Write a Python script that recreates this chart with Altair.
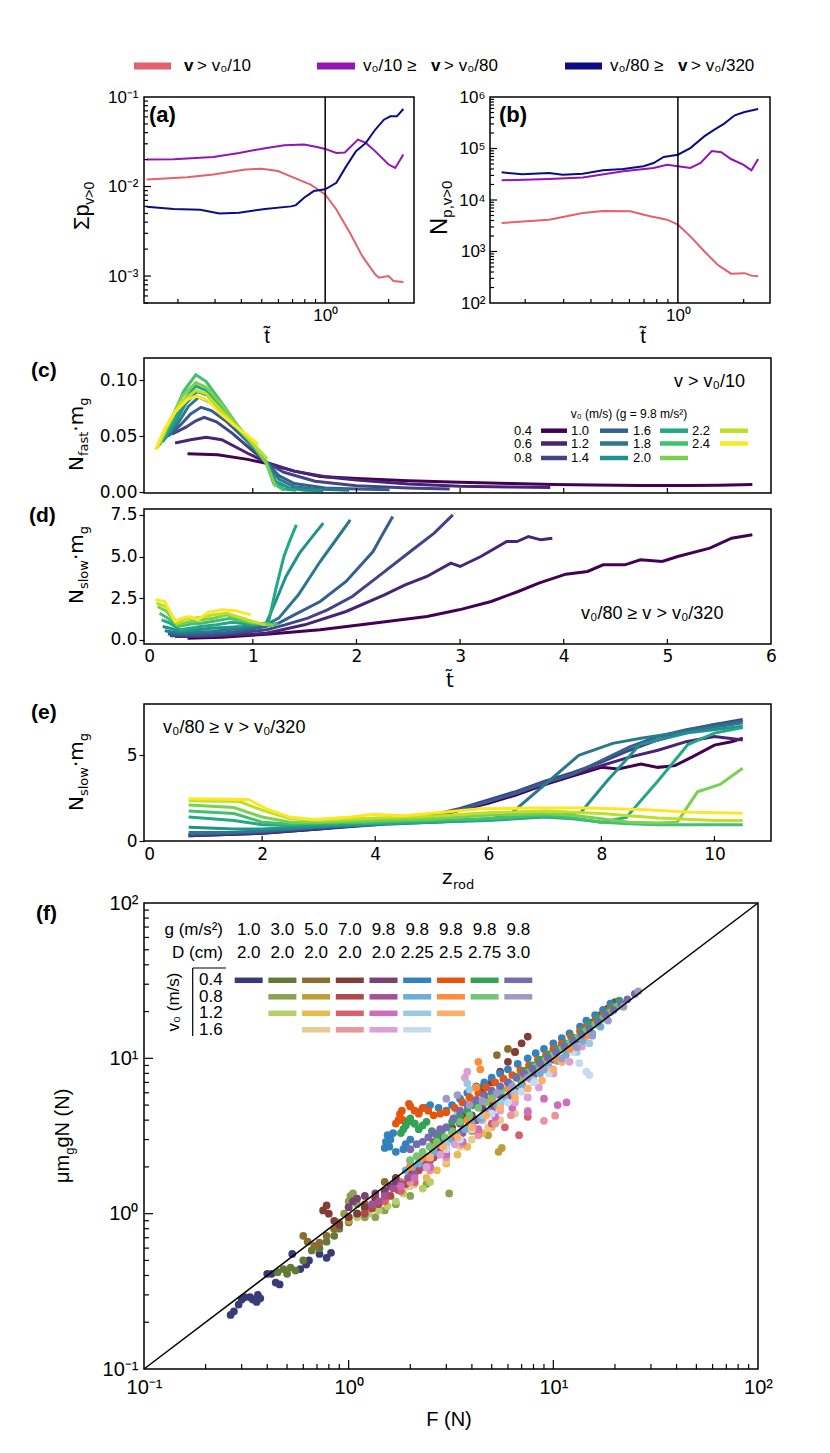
import altair as alt
import pandas as pd

FONT = "Liberation Sans"
MPL = "DejaVu Sans"

# ---------------- panels (a), (b): three velocity classes ----------------
CLASSES = ["fast", "mid", "slow"]
CLASS_COLORS = ["#e5606d", "#9414b4", "#0c0c86"]

a_fast_t = [0.142, 0.221, 0.294, 0.419, 0.5, 0.597, 0.713, 0.853, 1.0, 1.13, 1.31, 1.50, 1.73, 1.80, 2.0, 2.11, 2.35]
a_fast_v = [0.01197, 0.0127, 0.0136, 0.0155, 0.0158, 0.0149, 0.0125, 0.0105, 0.00814, 0.00554, 0.00304, 0.00167, 0.00104, 0.00096, 0.00100, 0.00088, 0.00086]
a_mid_t = [0.142, 0.191, 0.294, 0.390, 0.518, 0.641, 0.794, 0.915, 1.0, 1.13, 1.24, 1.43, 1.56, 1.73, 2.0, 2.15, 2.35]
a_mid_v = [0.0200, 0.0202, 0.0214, 0.0237, 0.0268, 0.0289, 0.0294, 0.0277, 0.0263, 0.0237, 0.0240, 0.0334, 0.0307, 0.0247, 0.0176, 0.0161, 0.0228]
a_slow_t = [0.142, 0.191, 0.255, 0.315, 0.390, 0.518, 0.689, 0.726, 0.794, 0.883, 1.0, 1.13, 1.26, 1.40, 1.56, 1.73, 1.90, 2.04, 2.19, 2.35]
a_slow_v = [0.00593, 0.00560, 0.00550, 0.00500, 0.00510, 0.00560, 0.00600, 0.0062, 0.0075, 0.0089, 0.0093, 0.0110, 0.0169, 0.0248, 0.0307, 0.0433, 0.0558, 0.0608, 0.0608, 0.0735]

b_fast_t = [0.156, 0.257, 0.367, 0.454, 0.604, 0.747, 0.893, 1.0, 1.14, 1.32, 1.52, 1.75, 2.02, 2.17, 2.33]
b_fast_v = [3570, 4150, 5600, 6120, 6050, 4820, 4150, 3320, 1970, 1010, 554, 371, 380, 340, 330]
b_mid_t = [0.156, 0.257, 0.367, 0.562, 0.774, 0.893, 1.0, 1.14, 1.27, 1.43, 1.58, 1.75, 1.99, 2.17, 2.33]
b_mid_v = [24100, 25600, 27300, 36100, 41800, 48500, 45100, 41800, 52300, 89300, 85000, 62500, 48500, 37700, 62500]
b_slow_t = [0.156, 0.194, 0.257, 0.297, 0.367, 0.454, 0.562, 0.696, 0.774, 0.861, 1.0, 1.14, 1.32, 1.47, 1.63, 1.82, 2.02, 2.33]
b_slow_v = [34400, 31500, 33400, 31000, 32400, 37700, 40000, 45100, 52300, 68400, 75900, 102000, 172000, 232000, 304000, 441000, 512000, 585000]

# ---------------- panels (c)-(e): v0 sweep ----------------
V0 = ["0.4", "0.6", "0.8", "1.0", "1.2", "1.4", "1.6", "1.8", "2.0", "2.2", "2.4"]
VIRIDIS = ["#440154", "#482475", "#414487", "#355f8d", "#2a788e", "#21918c",
           "#22a884", "#44bf70", "#7ad151", "#bddf26", "#fde725"]

c_t_04 = [0.37, 0.66, 0.95, 1.14, 1.4, 1.65, 2.0, 2.5, 3.0, 3.5, 3.9, 4.3, 4.73, 5.2, 5.5, 5.82]
c_v_04 = [0.0345, 0.0336, 0.0295, 0.0257, 0.019, 0.0143, 0.0125, 0.0105, 0.0091, 0.0080, 0.0070, 0.0066, 0.0061, 0.0062, 0.0065, 0.0070]
c_t_06 = [0.25, 0.4, 0.55, 0.7, 0.95, 1.14, 1.4, 1.7, 2.0, 2.5, 3.0, 3.5, 3.87]
c_v_06 = [0.0442, 0.047, 0.0493, 0.047, 0.035, 0.0265, 0.019, 0.014, 0.011, 0.0075, 0.0055, 0.0048, 0.0045]
c_t_08 = [0.22, 0.35, 0.45, 0.53, 0.65, 0.8, 0.95, 1.13, 1.3, 1.6, 2.0, 2.5, 2.9]
c_v_08 = [0.052, 0.058, 0.064, 0.067, 0.063, 0.053, 0.041, 0.027, 0.018, 0.010, 0.006, 0.004, 0.003]
c_t_10 = [0.18, 0.3, 0.4, 0.5, 0.6, 0.75, 0.9, 1.05, 1.13, 1.25, 1.4, 1.7, 2.0, 2.32]
c_v_10 = [0.050, 0.060, 0.070, 0.076, 0.073, 0.063, 0.050, 0.036, 0.027, 0.015, 0.008, 0.004, 0.003, 0.0025]
c_t_12 = [0.15, 0.28, 0.38, 0.48, 0.58, 0.72, 0.88, 1.02, 1.13, 1.25, 1.4, 1.6, 1.93]
c_v_12 = [0.048, 0.062, 0.077, 0.085, 0.081, 0.069, 0.054, 0.039, 0.027, 0.012, 0.005, 0.003, 0.002]
c_t_14 = [0.13, 0.25, 0.35, 0.46, 0.56, 0.7, 0.85, 1.0, 1.13, 1.22, 1.35, 1.5, 1.68]
c_v_14 = [0.045, 0.062, 0.079, 0.090, 0.087, 0.073, 0.057, 0.041, 0.027, 0.010, 0.004, 0.002, 0.0015]
c_t_16 = [0.12, 0.24, 0.34, 0.45, 0.55, 0.7, 0.85, 1.0, 1.13, 1.2, 1.3, 1.42]
c_v_16 = [0.045, 0.064, 0.083, 0.095, 0.091, 0.075, 0.058, 0.042, 0.027, 0.010, 0.003, 0.002]
c_t_18 = [0.1, 0.22, 0.33, 0.45, 0.55, 0.7, 0.85, 1.0, 1.13, 1.2, 1.3]
c_v_18 = [0.042, 0.066, 0.090, 0.105, 0.099, 0.080, 0.060, 0.043, 0.027, 0.008, 0.002]
c_t_20 = [0.08, 0.2, 0.32, 0.45, 0.55, 0.7, 0.85, 1.0, 1.13, 1.22]
c_v_20 = [0.040, 0.064, 0.086, 0.098, 0.094, 0.078, 0.060, 0.043, 0.026, 0.005]
c_t_22 = [0.07, 0.18, 0.3, 0.45, 0.55, 0.7, 0.85, 1.0, 1.14]
c_v_22 = [0.039, 0.060, 0.080, 0.091, 0.088, 0.073, 0.058, 0.044, 0.030]
c_t_24 = [0.06, 0.15, 0.24, 0.37, 0.45, 0.57, 0.69, 0.82, 0.95, 1.05]
c_v_24 = [0.038, 0.057, 0.071, 0.083, 0.086, 0.082, 0.070, 0.060, 0.051, 0.043]

d_t_04 = [0.37, 0.7, 1.13, 1.65, 2.16, 2.68, 2.99, 3.30, 3.56, 3.76, 4.02, 4.23, 4.38, 4.59, 4.74, 4.95, 5.10, 5.41, 5.62, 5.82]
d_v_04 = [0.1, 0.15, 0.34, 0.6, 1.0, 1.4, 1.8, 2.3, 2.9, 3.4, 3.94, 4.1, 4.5, 4.5, 4.8, 4.7, 5.0, 5.5, 6.1, 6.3]
d_t_06 = [0.25, 0.5, 0.9, 1.13, 1.5, 1.9, 2.27, 2.47, 2.68, 2.91, 3.0, 3.2, 3.45, 3.55, 3.66, 3.78, 3.89]
d_v_06 = [0.2, 0.2, 0.3, 0.4, 0.9, 1.7, 2.7, 3.3, 3.8, 4.6, 4.4, 5.0, 5.9, 5.9, 6.2, 6.0, 6.1]
d_t_08 = [0.2, 0.6, 1.13, 1.31, 1.53, 1.72, 1.96, 2.23, 2.52, 2.75, 2.93]
d_v_08 = [0.25, 0.25, 0.6, 0.9, 1.3, 1.8, 2.6, 3.9, 5.3, 6.4, 7.5]
d_t_10 = [0.18, 0.4, 0.8, 1.12, 1.25, 1.4, 1.65, 1.9, 2.16, 2.25, 2.35]
d_v_10 = [0.35, 0.3, 0.45, 0.8, 1.0, 1.5, 2.3, 3.5, 5.3, 6.3, 7.4]
d_t_12 = [0.15, 0.3, 0.6, 0.9, 1.13, 1.25, 1.44, 1.65, 1.86, 1.94]
d_v_12 = [0.55, 0.4, 0.5, 0.7, 0.9, 1.3, 2.7, 4.7, 6.5, 7.2]
d_t_14 = [0.13, 0.2, 0.3, 0.6, 0.9, 1.13, 1.22, 1.32, 1.45, 1.55, 1.68]
d_v_14 = [0.8, 0.7, 0.5, 0.7, 0.8, 1.0, 2.3, 3.8, 5.2, 6.0, 7.0]
d_t_16 = [0.12, 0.2, 0.3, 0.5, 0.65, 0.8, 1.0, 1.15, 1.22, 1.3, 1.36, 1.42]
d_v_16 = [1.2, 1.0, 0.6, 0.8, 0.9, 1.05, 0.9, 1.0, 3.0, 5.0, 6.0, 6.9]
d_t_18 = [0.1, 0.18, 0.28, 0.4, 0.5, 0.65, 0.78, 1.0, 1.15, 1.25]
d_v_18 = [1.6, 1.3, 0.8, 0.95, 1.0, 1.15, 1.3, 1.0, 0.95, 0.9]
d_t_20 = [0.08, 0.17, 0.27, 0.4, 0.5, 0.62, 0.75, 0.95, 1.05, 1.2]
d_v_20 = [2.0, 1.7, 0.9, 1.1, 1.2, 1.3, 1.5, 1.1, 1.0, 0.85]
d_t_22 = [0.07, 0.16, 0.27, 0.35, 0.5, 0.62, 0.75, 0.9, 1.0, 1.12]
d_v_22 = [2.2, 2.0, 1.0, 1.25, 1.35, 1.5, 1.6, 1.3, 1.1, 0.9]
d_t_24 = [0.06, 0.15, 0.25, 0.31, 0.39, 0.47, 0.57, 0.7, 0.83, 0.98]
d_v_24 = [2.4, 2.3, 1.1, 1.3, 1.4, 1.2, 1.65, 1.8, 1.75, 1.5]

e_z_04 = [0.7, 2, 3, 4, 4.8, 5.5, 6, 6.5, 7, 7.5, 8, 8.3, 8.7, 9, 9.3, 9.6, 10, 10.3, 10.5]
e_v_04 = [0.3, 0.45, 0.7, 1.0, 1.3, 1.8, 2.2, 2.7, 3.3, 3.8, 4.3, 4.2, 4.5, 4.3, 4.4, 4.9, 5.6, 5.8, 6.0]
e_z_06 = [0.7, 2, 3, 4, 5, 5.5, 6, 6.5, 7, 7.5, 8, 8.5, 9, 9.5, 10, 10.5]
e_v_06 = [0.3, 0.45, 0.7, 0.95, 1.4, 1.8, 2.3, 2.8, 3.4, 3.9, 4.4, 4.9, 5.3, 5.8, 6.1, 5.9]
e_z_08 = [0.7, 2, 3, 4, 5, 5.5, 6, 6.5, 7, 7.5, 8, 8.5, 9, 9.5, 10, 10.5]
e_v_08 = [0.35, 0.5, 0.75, 1.0, 1.5, 1.9, 2.4, 2.9, 3.5, 4.0, 4.6, 5.3, 5.9, 6.4, 6.8, 7.1]
e_z_10 = [0.7, 2, 3, 4, 5, 5.5, 6, 6.5, 7, 7.5, 8, 8.5, 9, 9.5, 10, 10.5]
e_v_10 = [0.4, 0.55, 0.8, 1.0, 1.45, 1.85, 2.3, 2.8, 3.4, 3.9, 4.7, 5.5, 6.1, 6.5, 6.8, 7.0]
e_z_12 = [0.7, 1.5, 2, 3, 4, 5, 6, 6.4, 7, 7.6, 8.2, 8.7, 9.5, 10.5]
e_v_12 = [0.5, 0.5, 0.6, 0.8, 0.95, 1.1, 1.25, 1.6, 3.3, 5.0, 5.7, 6.0, 6.4, 6.9]
e_z_14 = [0.7, 1.5, 2, 3, 4, 5, 6, 7, 7.64, 8.1, 8.68, 9.53, 10.5]
e_v_14 = [0.8, 0.7, 0.7, 0.85, 1.0, 1.1, 1.3, 1.5, 1.68, 3.5, 5.63, 6.32, 6.7]
e_z_16 = [0.7, 1.5, 2, 2.5, 3, 4, 5, 6, 7, 7.5, 8, 8.44, 9, 9.53, 10, 10.5]
e_v_16 = [1.4, 1.2, 0.95, 0.9, 0.95, 1.0, 1.1, 1.2, 1.4, 1.3, 1.1, 1.38, 3.5, 5.63, 6.3, 6.62]
e_z_18 = [0.7, 1.5, 2, 2.5, 3, 4, 5, 6, 7, 7.5, 8, 8.5, 9, 9.5, 10, 10.5]
e_v_18 = [1.75, 1.6, 1.1, 1.0, 1.05, 1.1, 1.2, 1.3, 1.5, 1.35, 1.1, 1.0, 0.95, 0.95, 0.95, 0.95]
e_z_20 = [0.7, 1.5, 2, 2.5, 3, 4, 5, 6, 7, 7.5, 8, 8.5, 9, 9.34, 9.7, 10.1, 10.5]
e_v_20 = [2.1, 1.95, 1.4, 1.1, 1.1, 1.2, 1.3, 1.5, 1.6, 1.5, 1.3, 1.1, 1.05, 1.09, 2.87, 3.3, 4.25]
e_z_22 = [0.7, 1.6, 2, 2.5, 3, 4, 5, 6, 7, 8, 9, 10, 10.5]
e_v_22 = [2.35, 2.3, 1.8, 1.3, 1.2, 1.35, 1.45, 1.65, 1.75, 1.6, 1.35, 1.2, 1.2]
e_z_24 = [0.7, 1.75, 2.08, 2.5, 2.92, 3.5, 3.96, 4.5, 5.2, 5.85, 6.8, 7.7, 8.7, 9.6, 10.5]
e_v_24 = [2.47, 2.43, 1.88, 1.38, 1.25, 1.38, 1.56, 1.48, 1.68, 1.88, 1.92, 1.92, 1.84, 1.68, 1.62]

# ---------------- panel (f): F vs mu m_g g N ----------------
F_G = ["1.0", "3.0", "5.0", "7.0", "9.8", "9.8", "9.8", "9.8", "9.8"]
F_D = ["2.0", "2.0", "2.0", "2.0", "2.0", "2.25", "2.5", "2.75", "3.0"]
F_V0 = ["0.4", "0.8", "1.2", "1.6"]
F_COL_COLORS = [
    ["#393b79"],
    ["#637939", "#8ca252", "#b5cf6b"],
    ["#8c6d31", "#bd9e39", "#e7ba52", "#e7cb94"],
    ["#843c39", "#ad494a", "#d6616b", "#e7969c"],
    ["#7b4173", "#a55194", "#ce6dbd", "#de9ed6"],
    ["#3182bd", "#6baed6", "#9ecae1", "#c6dbef"],
    ["#e6550d", "#fd8d3c", "#fdae6b"],
    ["#31a354", "#74c476"],
    ["#756bb1", "#9e9ac8"],
]

s01_F = [0.265, 0.275, 0.29, 0.30, 0.31, 0.33, 0.34, 0.355, 0.37, 0.36, 0.40, 0.42, 0.44, 0.46, 0.53, 0.58, 0.62, 0.64, 0.72, 0.78, 0.82]
s01_N = [0.223, 0.235, 0.26, 0.28, 0.29, 0.29, 0.28, 0.27, 0.285, 0.30, 0.41, 0.41, 0.36, 0.35, 0.55, 0.44, 0.47, 0.50, 0.55, 0.52, 0.56]
s02_F = [0.45, 0.48, 0.5, 0.52, 0.55, 0.6, 0.66, 0.72, 0.78, 0.85, 0.9, 1.0, 1.1, 1.2, 1.35]
s02_N = [0.42, 0.44, 0.41, 0.45, 0.43, 0.5, 0.58, 0.6, 0.66, 0.72, 0.8, 0.88, 1.0, 1.1, 1.25]
s03_F = [0.85, 0.9, 0.95, 1.0, 1.0, 1.02, 1.05, 1.1, 1.2, 1.35, 1.5, 1.7, 2.0, 2.4, 3.1]
s03_N = [0.8, 0.88, 1.0, 1.1, 1.2, 1.3, 1.35, 1.15, 0.95, 0.95, 1.05, 1.15, 1.3, 1.55, 1.35]
s04_F = [1.1, 1.25, 1.4, 1.55, 1.7, 1.85, 1.95, 2.1, 2.3, 2.5]
s04_N = [0.95, 1.0, 1.05, 1.12, 1.2, 1.35, 1.5, 1.55, 1.45, 1.6]
s05_F = [0.6, 0.63, 0.68, 0.72, 0.78, 0.85, 1.0, 1.2, 1.5, 2.0, 2.6, 3.5, 4.5, 5.3, 6.0, 6.5]
s05_N = [0.72, 0.66, 0.62, 0.65, 0.72, 0.8, 0.95, 1.15, 1.6, 2.2, 2.9, 4.0, 6.5, 10.5, 11.5, 11.0]
s06_F = [1.0, 1.2, 1.5, 1.8, 2.1, 2.5, 3.0, 3.5, 4.0, 4.8, 5.4, 5.6]
s06_N = [0.9, 1.05, 1.3, 1.6, 1.9, 2.3, 2.6, 3.0, 3.4, 3.2, 2.5, 2.65]
s07_F = [1.5, 1.8, 2.1, 2.4, 2.7, 3.0, 3.4, 3.8, 4.5, 5.0]
s07_N = [1.2, 1.4, 1.6, 1.7, 1.9, 2.1, 2.4, 2.7, 3.3, 3.6]
s08_F = [2.0, 2.5, 3.0, 3.5, 4.0, 4.8, 5.5, 6.5]
s08_N = [1.5, 1.9, 2.2, 2.7, 3.0, 3.6, 4.0, 4.4]
s09_F = [0.75, 0.78, 0.8, 0.85, 0.9, 1.0, 1.2, 1.5, 2.0, 2.5, 3.2, 4.0, 5.0, 6.0, 7.0, 7.5, 1.1, 1.35, 1.7, 2.2, 2.8, 3.6, 4.5, 5.5, 6.5]
s09_N = [1.05, 1.13, 1.0, 0.9, 0.85, 0.95, 1.1, 1.4, 2.0, 2.7, 3.6, 5.0, 7.0, 9.5, 12.5, 13.8, 1.0, 1.25, 1.7, 2.3, 3.1, 4.3, 6.0, 8.2, 11.0]
s10_F = [1.2, 1.4, 1.6, 1.9, 2.2, 2.6, 3.0, 3.6, 4.2, 5.0, 6.0, 7.0, 8.5, 10.0, 1.3, 1.5, 1.75, 2.05, 2.4, 2.8, 3.3, 3.9, 4.6, 5.5, 6.5, 7.7, 9.2]
s10_N = [1.0, 1.15, 1.3, 1.55, 1.9, 2.3, 2.8, 3.4, 4.0, 4.8, 5.6, 6.8, 8.5, 10.0, 1.08, 1.22, 1.42, 1.7, 2.1, 2.55, 3.1, 3.7, 4.4, 5.2, 6.2, 7.6, 9.2]
s11_F = [1.5, 1.8, 2.1, 2.5, 3.0, 3.6, 4.3, 5.0, 5.8, 6.8, 7.5]
s11_N = [1.2, 1.4, 1.6, 2.0, 2.4, 2.9, 3.3, 3.8, 3.6, 3.2, 4.2]
s12_F = [2.0, 2.5, 3.0, 3.6, 4.3, 5.2, 6.2, 7.5, 9.0, 10.2]
s12_N = [1.6, 1.9, 2.3, 2.8, 3.2, 3.8, 4.3, 4.6, 3.96, 4.27]
s13_F = [1.0, 1.1, 1.2, 1.35, 1.5, 1.7, 2.0, 2.4, 2.9, 3.5, 4.5, 5.5, 7.0, 9.0, 11.0, 14.0, 17.0, 20.0,
         1.05, 1.6, 2.2, 3.2, 4.0, 5.0, 6.2, 8.0, 10.0, 12.5, 15.5, 18.5]
s13_N = [1.1, 1.25, 1.3, 1.35, 1.4, 1.6, 1.9, 2.3, 3.0, 3.8, 4.8, 5.8, 7.5, 9.5, 12.0, 15.5, 19.0, 23.0,
         1.2, 1.5, 2.1, 3.4, 4.3, 5.3, 6.6, 8.5, 10.5, 13.5, 17.0, 21.0]
s14_F = [1.3, 1.5, 1.8, 2.1, 2.5, 3.0, 3.6, 4.4, 5.5, 7.0, 9.0, 11.5, 14.5, 18.0,
         1.4, 1.65, 1.95, 2.3, 2.75, 3.3, 4.0, 5.0, 6.2, 8.0, 10.0, 13.0, 16.0, 20.0]
s14_N = [1.15, 1.3, 1.55, 1.8, 2.2, 2.6, 3.3, 4.1, 5.2, 6.8, 8.8, 11.5, 15.0, 19.0,
         1.2, 1.45, 1.7, 2.0, 2.4, 2.9, 3.7, 4.6, 5.9, 7.8, 9.8, 13.2, 17.0, 21.5]
s15_F = [1.8, 2.1, 2.5, 3.0, 3.6, 4.3, 5.2, 6.3, 7.5, 9.0, 10.5, 11.6]
s15_N = [1.5, 1.7, 2.0, 2.4, 2.9, 3.5, 4.2, 4.8, 4.5, 5.5, 5.0, 5.2]
s16_F = [2.4, 2.8, 3.3, 3.8, 3.7, 4.5, 5.5, 6.5, 7.5, 8.5, 10.0, 12.0, 13.8]
s16_N = [2.0, 2.4, 2.8, 8.2, 7.5, 4.0, 4.6, 5.2, 5.6, 6.5, 8.0, 9.5, 11.9]
s17_F = [1.5, 1.55, 1.6, 1.7, 1.85, 2.0, 2.2, 2.5, 3.0, 3.5, 4.2, 5.0, 6.0, 7.5, 9.0, 11.0, 13.5, 16.0, 19.0,
         1.52, 1.58, 1.65, 1.9, 2.1, 2.35, 2.75, 3.2, 3.8, 4.6, 5.5, 6.7, 8.2, 10.0, 12.0, 14.5, 17.5]
s17_N = [2.65, 3.2, 3.0, 2.5, 2.6, 3.0, 4.5, 5.0, 4.6, 5.5, 6.6, 7.5, 8.5, 10.0, 11.5, 13.5, 16.0, 19.0, 22.5,
         2.9, 2.7, 3.3, 2.8, 3.8, 4.8, 4.8, 5.0, 6.0, 7.0, 8.0, 9.2, 10.8, 12.5, 14.5, 17.5, 20.5]
s18_F = [1.9, 2.2, 2.6, 3.1, 3.7, 4.4, 5.3, 6.4, 7.8, 9.5, 11.5, 14.0, 17.0,
         2.05, 2.4, 2.85, 3.4, 4.0, 4.8, 5.8, 7.0, 8.6, 10.5, 12.7, 15.5]
s18_N = [1.9, 2.1, 2.5, 3.0, 3.5, 4.1, 5.0, 6.0, 7.3, 8.8, 10.5, 13.0, 16.0,
         2.0, 2.3, 2.75, 3.2, 3.8, 4.5, 5.5, 6.6, 8.0, 9.6, 11.8, 14.5]
s19_F = [2.5, 3.0, 3.4, 3.8, 3.9, 4.5, 5.5, 6.5, 8.0, 9.5, 11.0, 13.0, 15.0]
s19_N = [2.3, 2.8, 4.5, 6.9, 6.3, 4.3, 5.2, 6.0, 7.2, 8.4, 9.5, 11.0, 12.5]
s20_F = [3.0, 3.5, 4.0, 5.0, 6.0, 7.0, 8.0, 9.5, 11.0, 12.5, 13.4, 14.5, 15.0]
s20_N = [2.6, 3.0, 3.5, 4.4, 5.2, 6.1, 7.0, 8.0, 9.5, 11.0, 9.3, 8.2, 7.8]
s21_F = [1.7, 1.78, 1.85, 1.97, 2.1, 2.3, 2.6, 3.0, 3.6, 4.3, 5.2, 6.3, 7.6, 9.2, 11.0, 13.5, 16.0, 19.0,
         1.75, 1.82, 1.9, 2.0, 2.2, 2.45, 2.8, 3.3, 3.9, 4.7, 5.7, 6.9, 8.4, 10.0, 12.2, 14.5, 17.5]
s21_N = [3.8, 4.38, 4.0, 5.1, 4.6, 4.8, 4.3, 4.5, 5.2, 6.0, 7.0, 7.8, 9.0, 10.5, 12.5, 15.0, 17.5, 21.0,
         4.0, 4.6, 3.9, 4.9, 4.4, 4.6, 4.4, 4.8, 5.6, 6.5, 7.4, 8.4, 9.8, 11.5, 13.8, 16.0, 19.0]
s22_F = [2.0, 2.3, 2.7, 3.2, 3.8, 4.2, 4.4, 4.3, 5.0, 6.0, 7.2, 8.6, 10.2, 12.0, 14.5]
s22_N = [2.0, 2.3, 2.8, 3.3, 4.0, 6.5, 8.5, 9.5, 5.5, 6.4, 7.5, 8.8, 10.0, 11.5, 14.0]
s23_F = [2.5, 2.9, 3.4, 4.0, 4.7, 5.5, 6.5, 7.5, 8.8, 10.0, 11.0]
s23_N = [2.3, 2.7, 3.1, 3.6, 4.3, 4.8, 5.6, 6.4, 7.2, 8.5, 9.5]
s24_F = [1.8, 1.9, 2.0, 2.2, 2.4, 2.7, 3.0, 3.5, 4.2, 5.0, 6.0, 7.2, 8.6, 10.5, 12.5, 15.0, 18.0, 21.0,
         1.85, 1.95, 2.1, 2.3, 2.55, 2.85, 3.2, 3.8, 4.6, 5.5, 6.6, 7.9, 9.5, 11.5, 13.8, 16.5, 19.5]
s24_N = [3.3, 3.7, 4.1, 3.5, 3.9, 3.2, 3.6, 4.3, 5.0, 6.0, 7.0, 8.3, 9.8, 11.5, 13.5, 16.5, 19.5, 23.5,
         3.5, 3.9, 3.8, 3.7, 3.4, 3.4, 3.9, 4.6, 5.5, 6.5, 7.6, 9.0, 10.6, 12.5, 15.0, 18.0, 21.5]
s25_F = [2.0, 2.3, 2.7, 3.2, 3.9, 4.7, 5.6, 6.8, 8.2, 10.0, 12.0, 14.5, 17.5, 20.5,
         2.15, 2.5, 2.95, 3.5, 4.3, 5.1, 6.2, 7.5, 9.1, 11.0, 13.2, 16.0, 19.0]
s25_N = [2.2, 2.5, 2.9, 3.4, 4.3, 5.2, 6.2, 7.4, 8.8, 10.5, 12.5, 15.0, 18.0, 21.5,
         2.35, 2.7, 3.1, 3.9, 4.8, 5.7, 6.8, 8.1, 9.6, 11.5, 13.7, 16.5, 19.8]
s26_F = [2.0, 2.3, 2.6, 3.0, 3.5, 4.2, 5.0, 6.0, 7.2, 8.6, 10.3, 12.5, 15.0, 18.0, 21.5, 25.0,
         2.15, 2.45, 2.8, 3.25, 3.8, 4.6, 5.5, 6.6, 7.9, 9.4, 11.3, 13.7, 16.5, 19.7, 23.0]
s26_N = [2.6, 2.9, 3.3, 3.6, 4.6, 5.4, 6.2, 7.0, 8.0, 9.3, 11.0, 13.0, 15.5, 19.0, 22.5, 26.0,
         2.8, 3.1, 3.5, 4.1, 5.0, 5.8, 6.6, 7.5, 8.6, 10.1, 12.0, 14.2, 17.2, 20.5, 24.0]
s27_F = [3.0, 3.4, 3.9, 4.5, 5.3, 6.3, 7.5, 9.0, 11.0, 13.0, 15.5, 18.5, 22.0, 26.0]
s27_N = [5.5, 5.8, 5.0, 5.3, 6.0, 6.6, 7.5, 8.5, 10.0, 11.8, 14.0, 17.5, 21.5, 27.0]

F_SERIES = [
    (0, 0, s01_F, s01_N),
    (1, 0, s02_F, s02_N), (1, 1, s03_F, s03_N), (1, 2, s04_F, s04_N),
    (2, 0, s05_F, s05_N), (2, 1, s06_F, s06_N), (2, 2, s07_F, s07_N), (2, 3, s08_F, s08_N),
    (3, 0, s09_F, s09_N), (3, 1, s10_F, s10_N), (3, 2, s11_F, s11_N), (3, 3, s12_F, s12_N),
    (4, 0, s13_F, s13_N), (4, 1, s14_F, s14_N), (4, 2, s15_F, s15_N), (4, 3, s16_F, s16_N),
    (5, 0, s17_F, s17_N), (5, 1, s18_F, s18_N), (5, 2, s19_F, s19_N), (5, 3, s20_F, s20_N),
    (6, 0, s21_F, s21_N), (6, 1, s22_F, s22_N), (6, 2, s23_F, s23_N),
    (7, 0, s24_F, s24_N), (7, 1, s25_F, s25_N),
    (8, 0, s26_F, s26_N), (8, 1, s27_F, s27_N),
]

# ---------------- helpers ----------------
SUP = {-3: "⁻³", -2: "⁻²", -1: "⁻¹", 0: "⁰", 1: "¹", 2: "²", 3: "³", 4: "⁴", 5: "⁵", 6: "⁶"}
EM_SANS = {"Σ": 0.593, "p": 0.556, "v": 0.5, ">": 0.584, "0": 0.556, "N": 0.722, ",": 0.278,
           "μ": 0.576, "m": 0.833, "g": 0.556, " ": 0.278, "(": 0.333, ")": 0.333}
EM_DJ = {"N": 0.748, "f": 0.352, "a": 0.613, "s": 0.521, "t": 0.392, "l": 0.278, "o": 0.612,
         "w": 0.818, "·": 0.318, "m": 0.974, "g": 0.635}
LEFT = 130  # common left extent of every panel (plot origin = 13 + LEFT)


def one():
    return pd.DataFrame({"k": [0]})


def vtext(txt, x, y, size=14, font=FONT, weight="normal", align="left", baseline="middle",
          angle=None, color="black"):
    kw = dict(text=txt, fontSize=size, font=font, fontWeight=weight, align=align,
              baseline=baseline, color=color)
    if angle is not None:
        kw["angle"] = angle
    return alt.Chart(one()).mark_text(**kw).encode(x=alt.value(x), y=alt.value(y))


def vrule(x1, x2, y1, y2, color="black", width=1.0):
    return alt.Chart(one()).mark_rule(color=color, strokeWidth=width).encode(
        x=alt.value(x1), x2=alt.value(x2), y=alt.value(y1), y2=alt.value(y2))


def frame(w, h):
    return alt.Chart(one()).mark_rect(fillOpacity=0, stroke="black", strokeWidth=1.5).encode(
        x=alt.value(0), x2=alt.value(w), y=alt.value(0), y2=alt.value(h))


def anchors(left, top, bottom):
    return [vrule(-left, -left + 1, -top, -top, color="white", width=0.2),
            vrule(-left, -left + 1, bottom, bottom, color="white", width=0.2)]


def tw(txt, size, em):
    return sum(em.get(ch, 0.56) for ch in txt) * size


def rot_title(parts, xb, ybot, font, em):
    out, y = [], ybot
    for txt, size, shift in parts:
        out.append(vtext(txt, xb + shift, y, size=size, font=font, align="left",
                         baseline="alphabetic", angle=270))
        y -= tw(txt, size, em)
    return out


def pow_expr(exps):
    s = ""
    for e in exps:
        s += f"abs(log(datum.value)/LN10-({e}))<0.05 ? '10{SUP[e]}' : "
    return s + "''"


def ax(values, expr=None, fmt=None, font=FONT, size=17, pad=4, ticks=False):
    kw = dict(values=values, title=None, grid=False, domain=False, ticks=ticks,
              labelFont=font, labelFontSize=size, labelPadding=pad, labelFlush=False,
              labelOverlap=False, labelColor="black")
    if expr:
        kw["labelExpr"] = expr
    if fmt:
        kw["format"] = fmt
    if ticks:
        kw.update(tickSize=5, tickColor="black", tickWidth=1.2)
    return alt.Axis(**kw)


def xticks(vals, field, scale, h, length, axis):
    return alt.Chart(pd.DataFrame({field: vals})).mark_rule(color="black", strokeWidth=1.2).encode(
        x=alt.X(f"{field}:Q", scale=scale, axis=axis), y=alt.value(h), y2=alt.value(h - length))


def yticks(vals, field, scale, length, axis):
    return alt.Chart(pd.DataFrame({field: vals})).mark_rule(color="black", strokeWidth=1.2).encode(
        y=alt.Y(f"{field}:Q", scale=scale, axis=axis), x=alt.value(0), x2=alt.value(length))


def series_df(xs_list, ys_list, names, xcol, ycol):
    rows = []
    for n, xs, ys in zip(names, xs_list, ys_list):
        rows += [{xcol: x, ycol: y, "s": n} for x, y in zip(xs, ys)]
    return pd.DataFrame(rows)


def decade_minors(lo, hi):
    out = []
    for e in range(-4, 7):
        for k in range(2, 10):
            v = k * 10.0 ** e
            if lo <= v <= hi:
                out.append(v)
    return out


# ---------------- top legend row (origin at page x = 143) ----------------
LY = 52
leg_row = alt.layer(
    vrule(-10, 27, LY, LY, color=CLASS_COLORS[0], width=7),
    vtext("v", 40, LY, size=17, weight="bold"),
    vtext("> v₀/10", 53, LY, size=17),
    vrule(173, 211, LY, LY, color=CLASS_COLORS[1], width=7),
    vtext("v₀/10 ≥", 219, LY, size=17),
    vtext("v", 287, LY, size=17, weight="bold"),
    vtext("> v₀/80", 300, LY, size=17),
    vrule(421, 458, LY, LY, color=CLASS_COLORS[2], width=7),
    vtext("v₀/80 ≥", 466, LY, size=17),
    vtext("v", 534, LY, size=17, weight="bold"),
    vtext("> v₀/320", 547, LY, size=17),
    *anchors(LEFT, 0, 67),
).properties(width=620, height=67)

class_color = alt.Color("s:N", scale=alt.Scale(domain=CLASSES, range=CLASS_COLORS), legend=None)
A_XMINOR = [0.2, 0.3, 0.4, 0.5, 0.6, 0.7, 0.8, 0.9, 2.0]

# ---------------- panel (a) ----------------
W_A, H_A = 270, 206
xa = alt.Scale(type="log", domain=[0.138, 2.64], nice=False)
ya = alt.Scale(type="log", domain=[5e-4, 0.1], nice=False)
xa_ax = ax([1.0], pow_expr([0]), pad=4)
ya_ax = ax([1e-3, 1e-2, 1e-1], pow_expr([-3, -2, -1]), pad=6)
df_a = series_df([a_fast_t, a_mid_t, a_slow_t], [a_fast_v, a_mid_v, a_slow_v], CLASSES, "t", "v")
pa = alt.layer(
    alt.Chart(df_a).mark_line(strokeWidth=2, clip=True).encode(
        x=alt.X("t:Q", scale=xa, axis=xa_ax), y=alt.Y("v:Q", scale=ya, axis=ya_ax), color=class_color),
    alt.Chart(pd.DataFrame({"t": [1.0]})).mark_rule(color="black", strokeWidth=1.5).encode(
        x=alt.X("t:Q", scale=xa, axis=xa_ax)),
    xticks(A_XMINOR, "t", xa, H_A, 4, xa_ax),
    yticks([1e-3, 1e-2], "v", ya, 7, ya_ax),
    yticks(decade_minors(5e-4, 0.1), "v", ya, 4, ya_ax),
    frame(W_A, H_A),
    vtext("(a)", 5, 18, size=22, weight="bold"),
    vtext("t̃", 123, 246, size=20, align="center", baseline="alphabetic"),
    *rot_title([("Σp", 22, 0), ("v>0", 14, 5)], -55, 133, FONT, EM_SANS),
    *anchors(LEFT, 14, 252),
).properties(width=W_A, height=H_A)

# ---------------- panel (b) ----------------
W_B, H_B = 280, 206
xb = alt.Scale(type="log", domain=[0.138, 2.64], nice=False)
yb = alt.Scale(type="log", domain=[1e2, 1e6], nice=False)
xb_ax = ax([1.0], pow_expr([0]), pad=4)
yb_ax = ax([1e2, 1e3, 1e4, 1e5, 1e6], pow_expr([2, 3, 4, 5, 6]), pad=5)
df_b = series_df([b_fast_t, b_mid_t, b_slow_t], [b_fast_v, b_mid_v, b_slow_v], CLASSES, "t", "v")
pb = alt.layer(
    alt.Chart(df_b).mark_line(strokeWidth=2, clip=True).encode(
        x=alt.X("t:Q", scale=xb, axis=xb_ax), y=alt.Y("v:Q", scale=yb, axis=yb_ax), color=class_color),
    alt.Chart(pd.DataFrame({"t": [1.0]})).mark_rule(color="black", strokeWidth=1.5).encode(
        x=alt.X("t:Q", scale=xb, axis=xb_ax)),
    xticks(A_XMINOR, "t", xb, H_B, 4, xb_ax),
    yticks([1e3, 1e4, 1e5], "v", yb, 7, yb_ax),
    yticks(decade_minors(1e2, 1e6), "v", yb, 4, yb_ax),
    frame(W_B, H_B),
    vtext("(b)", 9, 18, size=22, weight="bold"),
    vtext("t̃", 153, 246, size=20, align="center", baseline="alphabetic"),
    *rot_title([("N", 24, 0), ("p,v>0", 15, 5)], -43, 138, FONT, EM_SANS),
    *anchors(74, 14, 252),
).properties(width=W_B, height=H_B)

row_ab = alt.hconcat(pa, pb, spacing=0)

v0_color = alt.Color("s:N", scale=alt.Scale(domain=V0, range=VIRIDIS), legend=None)

# ---------------- panel (c) ----------------
W_C, H_C = 627, 135
xc = alt.Scale(domain=[-0.05, 6], nice=False)
yc = alt.Scale(domain=[-0.0005, 0.12], nice=False)
yc_ax = ax([0, 0.05, 0.1], fmt=".2f", font=MPL, size=17, pad=2, ticks=True)
df_c = series_df([c_t_04, c_t_06, c_t_08, c_t_10, c_t_12, c_t_14, c_t_16, c_t_18, c_t_20, c_t_22, c_t_24],
                 [c_v_04, c_v_06, c_v_08, c_v_10, c_v_12, c_v_14, c_v_16, c_v_18, c_v_20, c_v_22, c_v_24],
                 V0, "t", "v")
C_LAB_X = [370, 427, 489, 548]
C_SW_X = [(397, 423), (456, 484), (516, 544), (576, 604)]
C_ROW_Y = [72.7, 85.5, 100]
leg_c = [vtext("v₀ (m/s) (g = 9.8 m/s²)", 485, 56, size=12, align="center")]
for i, (lab, col) in enumerate(zip(V0, VIRIDIS)):
    cc, rr = divmod(i, 3)
    leg_c.append(vtext(lab, C_LAB_X[cc], C_ROW_Y[rr], size=13))
    leg_c.append(vrule(C_SW_X[cc][0], C_SW_X[cc][1], C_ROW_Y[rr], C_ROW_Y[rr], color=col, width=4.5))

DJ_TITLE_SLOW = [("N", 20, 0), ("slow", 13, 5), ("·m", 20, 0), ("g", 13, 5)]

pc = alt.layer(
    alt.Chart(df_c).mark_line(strokeWidth=3, clip=True).encode(
        x=alt.X("t:Q", scale=xc, axis=None), y=alt.Y("v:Q", scale=yc, axis=yc_ax), color=v0_color),
    xticks([1, 2, 3, 4, 5], "t", xc, H_C, 5, None),
    frame(W_C, H_C),
    vtext("(c)", -113, 13, size=21, weight="bold"),
    vtext("v > v₀/10", 530, 24, size=18),
    *leg_c,
    *rot_title([("N", 20, 0), ("fast", 13, 5), ("·m", 20, 0), ("g", 13, 5)], -61, 113, MPL, EM_DJ),
    *anchors(LEFT, 7, 138),
).properties(width=W_C, height=H_C)

# ---------------- panel (d) ----------------
W_D, H_D = 627, 135
xd = alt.Scale(domain=[-0.05, 6], nice=False)
yd = alt.Scale(domain=[-0.25, 7.85], nice=False)
xd_ax = ax([0, 1, 2, 3, 4, 5, 6], fmt="d", font=MPL, size=17, pad=4)
yd_ax = ax([0, 2.5, 5, 7.5], fmt=".1f", font=MPL, size=17, pad=2, ticks=True)
df_d = series_df([d_t_04, d_t_06, d_t_08, d_t_10, d_t_12, d_t_14, d_t_16, d_t_18, d_t_20, d_t_22, d_t_24],
                 [d_v_04, d_v_06, d_v_08, d_v_10, d_v_12, d_v_14, d_v_16, d_v_18, d_v_20, d_v_22, d_v_24],
                 V0, "t", "v")
pd_ = alt.layer(
    alt.Chart(df_d).mark_line(strokeWidth=3, clip=True).encode(
        x=alt.X("t:Q", scale=xd, axis=xd_ax), y=alt.Y("v:Q", scale=yd, axis=yd_ax), color=v0_color),
    xticks([1, 2, 3, 4, 5], "t", xd, H_D, 5, xd_ax),
    frame(W_D, H_D),
    vtext("(d)", -115, 7, size=21, weight="bold"),
    vtext("v₀/80 ≥  v > v₀/320", 437, 105, size=18),
    vtext("t̃", 306, 178, size=20, font=MPL, align="center", baseline="alphabetic"),
    *rot_title(DJ_TITLE_SLOW, -61, 95, MPL, EM_DJ),
    *anchors(LEFT, 7, 185),
).properties(width=W_D, height=H_D)

# ---------------- panel (e) ----------------
W_E, H_E = 627, 137
xe = alt.Scale(domain=[-0.09, 11], nice=False)
ye = alt.Scale(domain=[0, 8], nice=False)
xe_ax = ax([0, 2, 4, 6, 8, 10], fmt="d", font=MPL, size=17, pad=5)
ye_ax = ax([0, 5], fmt="d", font=MPL, size=17, pad=2, ticks=True)
df_e = series_df([e_z_04, e_z_06, e_z_08, e_z_10, e_z_12, e_z_14, e_z_16, e_z_18, e_z_20, e_z_22, e_z_24],
                 [e_v_04, e_v_06, e_v_08, e_v_10, e_v_12, e_v_14, e_v_16, e_v_18, e_v_20, e_v_22, e_v_24],
                 V0, "z", "v")
pe = alt.layer(
    alt.Chart(df_e).mark_line(strokeWidth=3, clip=True).encode(
        x=alt.X("z:Q", scale=xe, axis=xe_ax), y=alt.Y("v:Q", scale=ye, axis=ye_ax), color=v0_color),
    xticks([2, 4, 6, 8, 10], "z", xe, H_E, 5, xe_ax),
    frame(W_E, H_E),
    vtext("(e)", -113, 9, size=21, weight="bold"),
    vtext("v₀/80 ≥  v > v₀/320", 19, 24, size=18),
    vtext("z", 298, 180, size=20, font=MPL, baseline="alphabetic"),
    vtext("rod", 309, 185, size=13, font=MPL, baseline="alphabetic"),
    *rot_title(DJ_TITLE_SLOW, -61, 107, MPL, EM_DJ),
    *anchors(LEFT, 8, 186),
).properties(width=W_E, height=H_E)

# ---------------- panel (f) ----------------
W_F, H_F = 614, 466
xf = alt.Scale(type="log", domain=[0.1, 100], nice=False)
yf = alt.Scale(type="log", domain=[0.1, 100], nice=False)
xf_ax = ax([0.1, 1, 10, 100], pow_expr([-1, 0, 1, 2]), size=20, pad=8)
yf_ax = ax([0.1, 1, 10, 100], pow_expr([-1, 0, 1, 2]), size=20, pad=6)
f_rows, f_sids, f_cols = [], [], []
for c, r, Fs, Ns in F_SERIES:
    sid = f"g={F_G[c]} D={F_D[c]} v0={F_V0[r]}"
    f_sids.append(sid)
    f_cols.append(F_COL_COLORS[c][r])
    f_rows += [{"F": x, "N": y, "sid": sid} for x, y in zip(Fs, Ns)]
df_f = pd.DataFrame(f_rows)


def fx(i):
    return 104.7 + 33.7 * i


def fy(r):
    return 77.3 + 16.5 * r


leg_f = [vtext("g (m/s²)", 79, 27, size=17, align="right"),
         vtext("D (cm)", 79, 50, size=17, align="right")]
for i in range(9):
    leg_f.append(vtext(F_G[i], fx(i), 27, size=17, align="center"))
    leg_f.append(vtext(F_D[i], fx(i), 50, size=17, align="center"))
for r in range(4):
    leg_f.append(vtext(F_V0[r], 55, fy(r), size=17))
for c, r, _, _ in F_SERIES:
    leg_f.append(vrule(fx(c) - 14, fx(c) + 14, fy(r), fy(r), color=F_COL_COLORS[c][r], width=5.5))
leg_f += [vrule(48.7, 48.7, 65, 133, width=1.2), vrule(48.7, 82, 65, 65, width=1.2),
          vtext("v₀ (m/s)", 30, 99, size=17, align="center", angle=270)]

pf = alt.layer(
    alt.Chart(df_f).mark_circle(size=60, opacity=1).encode(
        x=alt.X("F:Q", scale=xf, axis=xf_ax), y=alt.Y("N:Q", scale=yf, axis=yf_ax),
        color=alt.Color("sid:N", scale=alt.Scale(domain=f_sids, range=f_cols), legend=None)),
    alt.Chart(pd.DataFrame({"F": [0.1, 100.0], "N": [0.1, 100.0]})).mark_line(
        color="black", strokeWidth=1.5).encode(
        x=alt.X("F:Q", scale=xf, axis=xf_ax), y=alt.Y("N:Q", scale=yf, axis=yf_ax)),
    xticks([1, 10], "F", xf, H_F, 9, xf_ax),
    xticks(decade_minors(0.1, 100), "F", xf, H_F, 5, xf_ax),
    yticks([1, 10], "N", yf, 9, yf_ax),
    yticks(decade_minors(0.1, 100), "N", yf, 5, yf_ax),
    frame(W_F, H_F),
    *leg_f,
    vtext("(f)", -108, 11, size=21, weight="bold"),
    vtext("F (N)", 305, 523, size=20, align="center", baseline="alphabetic"),
    *rot_title([("μm", 20, 0), ("g", 13, 5), ("gN (N)", 20, 0)], -75, 280, FONT, EM_SANS),
    *anchors(LEFT, 10, 530),
).properties(width=W_F, height=H_F)

chart = alt.concat(leg_row, row_ab, pc, pd_, pe, pf, columns=1, spacing=0) \
    .resolve_scale(color="independent") \
    .configure_view(stroke=None)

chart.save("out.html", embed_options={"renderer": "svg", "actions": False})
